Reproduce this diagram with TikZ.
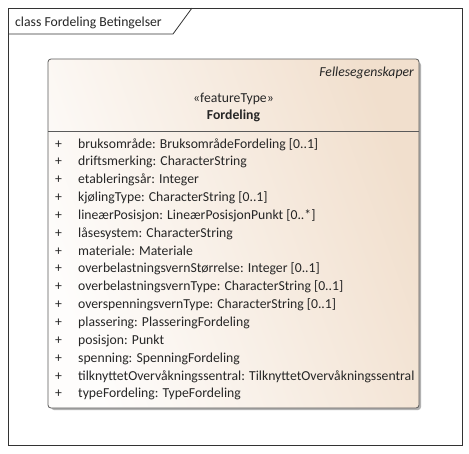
\documentclass[tikz,border=0pt]{standalone}
\usepackage{fontspec}
\setmainfont{Carlito}
\definecolor{boxleft}{HTML}{FEFDFC}
\definecolor{boxright}{HTML}{F1DFCD}
\definecolor{boxline}{HTML}{5A5A5A}
\newcommand{\dfont}{\fontsize{13.7}{15}\selectfont}
\tikzset{
  attr/.style={anchor=base west, inner sep=0pt, font=\dfont, text=black!85},
  plus/.style={anchor=base, inner sep=0pt, font=\dfont, text=black!85},
  hdr/.style={inner sep=0pt, font=\dfont, text=black!85},
}
\begin{document}
\begin{tikzpicture}[x=1pt,y=-1pt]
\useasboundingbox (0,0) rectangle (469,453);
\fill[white] (0,0) rectangle (469,453);
% outer frame
\draw[black!80, line width=0.8pt] (8,8) rectangle (462,445);
\draw[black!80, line width=0.8pt] (8,34) -- (173,34) -- (192,8);
\node[hdr, anchor=base west] (title) at (15,26) {class Fordeling Betingelser};
% class box shadow
\fill[black!30, rounded corners=3pt] (51,62) rectangle (421,410);
\shade[left color=boxleft, right color=boxright, shading angle=110, rounded corners=3pt]
  (48,59) rectangle (419,408);
\draw[boxline, line width=0.8pt, rounded corners=3pt] (48,59) rectangle (419,408);
\draw[boxline, line width=0.8pt] (48,131) -- (419,131);
\node[hdr, anchor=base east, font=\dfont\itshape] (pkg) at (414,76) {Fellesegenskaper};
\node[hdr, anchor=base] (st) at (233.5,102) {«featureType»};
\node[hdr, anchor=base, font=\dfont\bfseries] (nm) at (233.5,119) {Fordeling};
\foreach \t [count=\i] in {
 {bruksområde: BruksområdeFordeling [0..1]},
 {driftsmerking: CharacterString},
 {etableringsår: Integer},
 {kjølingType: CharacterString [0..1]},
 {lineærPosisjon: LineærPosisjonPunkt [0..*]},
 {låsesystem: CharacterString},
 {materiale: Materiale},
 {overbelastningsvernStørrelse: Integer [0..1]},
 {overbelastningsvernType: CharacterString [0..1]},
 {overspenningsvernType: CharacterString [0..1]},
 {plassering: PlasseringFordeling},
 {posisjon: Punkt},
 {spenning: SpenningFordeling},
 {tilknyttetOvervåkningssentral: TilknyttetOvervåkningssentral},
 {typeFordeling: TypeFordeling}} {
  \node[plus] (p\i) at (58.5,{148+17.85*(\i-1)}) {+};
  \node[attr] (a\i) at (78,{148+17.85*(\i-1)}) {\t};
}
\end{tikzpicture}
\end{document}
